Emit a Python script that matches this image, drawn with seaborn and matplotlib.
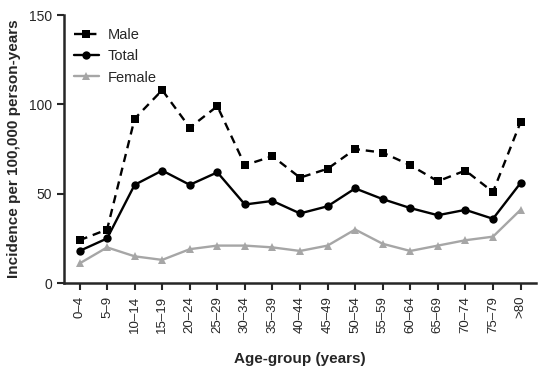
import matplotlib
matplotlib.use("Agg")
import matplotlib.pyplot as plt
import seaborn as sns
import pandas as pd

# age groups and incidence per 100,000 person-years
age_groups = ["0\u20134", "5\u20139", "10\u201314", "15\u201319", "20\u201324", "25\u201329",
              "30\u201334", "35\u201339", "40\u201344", "45\u201349", "50\u201354", "55\u201359",
              "60\u201364", "65\u201369", "70\u201374", "75\u201379", ">80"]
male = [24, 30, 92, 108, 87, 99, 66, 71, 59, 64, 75, 73, 66, 57, 63, 51, 90]
total = [18, 25, 55, 63, 55, 62, 44, 46, 39, 43, 53, 47, 42, 38, 41, 36, 56]
female = [11, 20, 15, 13, 19, 21, 21, 20, 18, 21, 30, 22, 18, 21, 24, 26, 41]
y_ticks = [0, 50, 100, 150]

sns.set_style("ticks")
plt.rcParams['font.family'] = ['Liberation Sans', 'DejaVu Sans']

df = pd.DataFrame({"age": age_groups, "Male": male, "Total": total, "Female": female})

fig = plt.figure(figsize=(5.5, 3.76), dpi=100)
ax = fig.add_axes([0.116, 0.247, 0.859, 0.713])

sns.lineplot(data=df, x="age", y="Male", ax=ax, color="black", marker="s",
             markersize=6, markeredgewidth=0, linewidth=1.7, linestyle=(0, (3.5, 2.5)),
             label="Male", sort=False)
sns.lineplot(data=df, x="age", y="Total", ax=ax, color="black", marker="o",
             markersize=6, markeredgewidth=0, linewidth=1.7, label="Total", sort=False)
sns.lineplot(data=df, x="age", y="Female", ax=ax, color="#a6a6a6", marker="^",
             markersize=6, markeredgewidth=0, linewidth=1.7, label="Female", sort=False)

ax.set_xlim(-0.57, len(age_groups) - 1 + 0.57)
ax.set_ylim(0, 150)
ax.set_yticks(y_ticks)
ax.tick_params(axis="x", labelrotation=90, labelsize=9.5, width=1.5, length=5, pad=4)
ax.tick_params(axis="y", labelsize=10, width=1.5, length=5)
for s in ["left", "bottom"]:
    ax.spines[s].set_linewidth(1.8)
sns.despine(ax=ax)

ax.set_xlabel("Age-group (years)", fontsize=11, fontweight="bold", labelpad=14)
ax.set_ylabel("Incidence per 100,000 person-years", fontsize=11, fontweight="bold", labelpad=6)

ax.legend(loc="upper left", frameon=False, fontsize=10.5, handlelength=1.7,
          handletextpad=0.6, bbox_to_anchor=(0.0, 0.99), borderaxespad=0.3,
          labelspacing=0.5)

fig.savefig("out.png", dpi=100)
